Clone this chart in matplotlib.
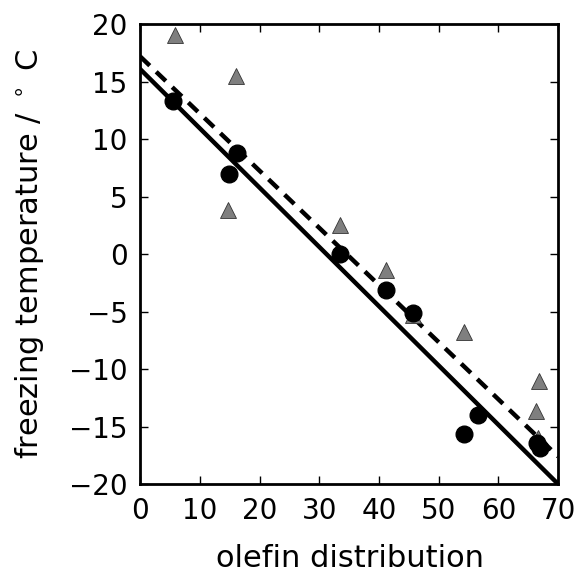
import matplotlib
matplotlib.use("Agg")
import matplotlib.pyplot as plt
import numpy as np

# circles (black)
circ_x = [5.5, 14.8, 16.2, 33.5, 41.2, 45.7, 54.3, 56.6, 66.5, 67.0]
circ_y = [13.3, 7.0, 8.8, 0.0, -3.1, -5.1, -15.6, -14.0, -16.4, -16.9]
# triangles (gray)
tri_x = [5.9, 16.1, 14.7, 33.5, 41.2, 45.7, 54.3, 66.8, 66.3, 66.6]
tri_y = [19.1, 15.5, 3.8, 2.5, -1.4, -5.3, -6.8, -11.0, -13.6, -16.0]
# fit lines
fit_x = [0, 70]
solid_y = [16.1, -20.0]
dashed_y = [17.2, -17.6]

fig = plt.figure(figsize=(5.79, 5.77), dpi=100)
ax = fig.add_axes([0.242, 0.161, 0.722, 0.797])

ax.plot(fit_x, solid_y, color='k', lw=3.2, zorder=2)
ax.plot(fit_x, dashed_y, color='k', lw=3.2, ls=(0, (3, 2)), zorder=2)
ax.plot(tri_x, tri_y, '^', color='#7f7f7f', mec='#333333', mew=0.6, ms=12, zorder=3)
ax.plot(circ_x, circ_y, 'o', color='k', ms=12, zorder=4)

ax.set_xlim(0, 70)
ax.set_ylim(-20, 20)
ax.set_xticks(np.arange(0, 71, 10))
ax.set_yticks(np.arange(-20, 21, 5))
ax.tick_params(direction='in', top=True, right=True, length=6, width=1, labelsize=20, pad=9)
for s in ax.spines.values():
    s.set_linewidth(2)
ax.set_xlabel('olefin distribution', fontsize=22)
ax.set_ylabel(r'freezing temperature / $^\circ$ C', fontsize=22)
ax.xaxis.set_label_coords(0.502, -0.131)
ax.yaxis.set_label_coords(-0.226, 0.5)

fig.savefig('out.png', dpi=100)
